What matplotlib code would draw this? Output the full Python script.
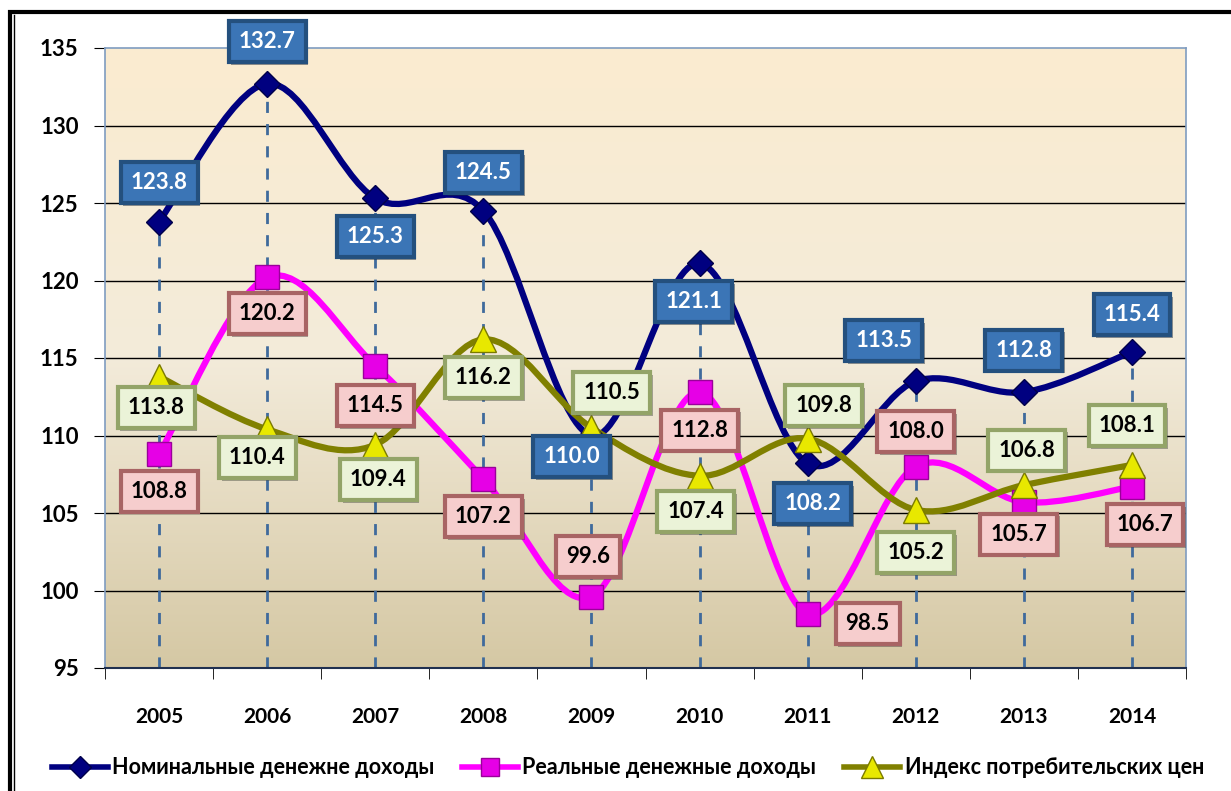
import numpy as np
import matplotlib
matplotlib.use('Agg')
from matplotlib import pyplot as plt
from matplotlib.path import Path
from matplotlib.patches import PathPatch, Rectangle
from matplotlib.lines import Line2D
import matplotlib.patheffects as pe

plt.rcParams['font.family'] = ['Lato', 'Roboto', 'DejaVu Sans']
plt.rcParams['font.weight'] = 'bold'

years = ['2005', '2006', '2007', '2008', '2009', '2010', '2011', '2012', '2013', '2014']
nominal = [123.8, 132.7, 125.3, 124.5, 110.0, 121.1, 108.2, 113.5, 112.8, 115.4]
real = [108.8, 120.2, 114.5, 107.2, 99.6, 112.8, 98.5, 108.0, 105.7, 106.7]
cpi = [113.8, 110.4, 109.4, 116.2, 110.5, 107.4, 109.8, 105.2, 106.8, 108.1]
series_names = ['Номинальные денежне доходы', 'Реальные денежные доходы', 'Индекс потребительских цен']

# label offsets in pixels (dx, dy down)
nominal_off = [(0, -39), (0, -42), (0, 38), (0, -38), (-20, 21), (-6, 38), (5, 40), (-32, -41), (0, -42), (0, -37)]
real_off = [(0, 37), (0, 36), (0, 40), (0, 38), (-3, -40), (0, 38), (60, 10), (0, -35), (-5, 32), (13, 38)]
cpi_off = [(-3, 31), (-10, 28), (3, 35), (0, 38), (20, -35), (-4, 36), (16, -33), (0, 43), (3, -35), (-5, -39)]


def smooth_path(xs, ys):
    pts = np.column_stack([xs, ys]).astype(float)
    n = len(pts)
    verts = [pts[0]]
    codes = [Path.MOVETO]
    for i in range(n - 1):
        p0 = pts[max(i - 1, 0)]
        p1 = pts[i]
        p2 = pts[i + 1]
        p3 = pts[min(i + 2, n - 1)]
        verts += [p1 + (p2 - p0) / 6, p2 - (p3 - p1) / 6, p2]
        codes += [Path.CURVE4] * 3
    return Path(verts, codes)


fig = plt.figure(figsize=(12.31, 7.91), dpi=100)
ax = fig.add_axes([105 / 1231, 1 - 668 / 791, 1081 / 1231, 620 / 791])

# outer frame
fig.add_artist(Rectangle((10 / 1231, -0.05), 1.1, 1 - 12 / 791 + 0.05, transform=fig.transFigure,
                         fill=False, edgecolor='black', linewidth=3))
fig.add_artist(Line2D([14 / 1231, 14 / 1231], [0, 1 - 15 / 791], transform=fig.transFigure,
                      color='black', linewidth=1))

x = np.arange(len(years))
ax.set_xlim(-0.5, 9.5)
ax.set_ylim(95, 135)

# background gradient
stops = np.array([[213, 200, 164], [243, 235, 218], [251, 236, 208]]) / 255
t = np.linspace(0, 1, 256)
grad = np.stack([np.interp(t, [0, 0.5, 1], stops[:, k]) for k in range(3)], axis=1)
ax.imshow(grad[:, None, :], extent=(-0.5, 9.5, 95, 135), aspect='auto', origin='lower', zorder=0)

for yv in range(100, 135, 5):
    ax.axhline(yv, color='black', linewidth=1, zorder=1)

ax.vlines(x, 95, nominal, colors='#3F6A9C', linestyles=(0, (4, 4)), linewidth=2, zorder=2)

styles = [
    (nominal, '#000080', 'D', 13.5, '#000080', '#00004A', nominal_off, '#3B75B6', '#24507E', 'white'),
    (real, '#FF00FF', 's', 17, '#E600E6', '#9A009A', real_off, '#F6CDCD', '#A86464', 'black'),
    (cpi, '#808000', '^', 19, '#E8E800', '#7A7A00', cpi_off, '#EBF3D8', '#93A468', 'black'),
]

handles = []
for vals, col, mk, ms, mface, medge, offs, bface, bedge, tcol in styles:
    ax.add_patch(PathPatch(smooth_path(x, vals), fill=False, edgecolor=col, linewidth=4.5,
                           capstyle='round', joinstyle='round', zorder=3))
    ax.plot(x, vals, linestyle='none', marker=mk, markersize=ms, markerfacecolor=mface,
            markeredgecolor=medge, markeredgewidth=1, zorder=4)
    handles.append(Line2D([], [], color=col, linewidth=4, marker=mk, markersize=ms * 0.8,
                          markerfacecolor=mface, markeredgecolor=medge))
    for xi, v, (dx, dy) in zip(x, vals, offs):
        ann = ax.annotate(f'{v:.1f}', (xi, v), xytext=(dx, -dy), textcoords='offset pixels',
                          ha='center', va='center', fontsize=16, fontweight='bold', color=tcol,
                          bbox=dict(boxstyle='square,pad=0.45', facecolor=bface, edgecolor=bedge,
                                    linewidth=3),
                          zorder=6, annotation_clip=False)
        ann.get_bbox_patch().set_path_effects([pe.SimplePatchShadow(offset=(2, -2), alpha=0.45),
                                               pe.Normal()])

ax.set_xticks(x)
ax.set_xticklabels(years, fontsize=15, fontweight='bold')
ax.set_xticks(np.arange(-0.5, 10, 1), minor=True)
ax.tick_params(axis='x', which='major', length=0, pad=28)
ax.tick_params(axis='x', which='minor', length=8, direction='out', color='black')
ax.set_yticks(range(95, 136, 5))
ax.set_yticklabels([str(v) for v in range(95, 136, 5)], fontsize=16, fontweight='bold')
ax.tick_params(axis='y', length=8, direction='out', pad=11, color='black')

for side in ['top', 'right', 'left']:
    ax.spines[side].set_color('#7F9CC0')
    ax.spines[side].set_linewidth(1.2)
ax.spines['bottom'].set_color('#203050')
ax.spines['bottom'].set_linewidth(1.5)

fig.legend(handles, series_names, loc='center', bbox_to_anchor=(0.510, 1 - 768 / 791), ncol=3,
           frameon=False, handlelength=2.6, handletextpad=0.2, columnspacing=1.3,
           prop={'weight': 'bold', 'size': 15.5})

fig.savefig('out.png', dpi=100)
